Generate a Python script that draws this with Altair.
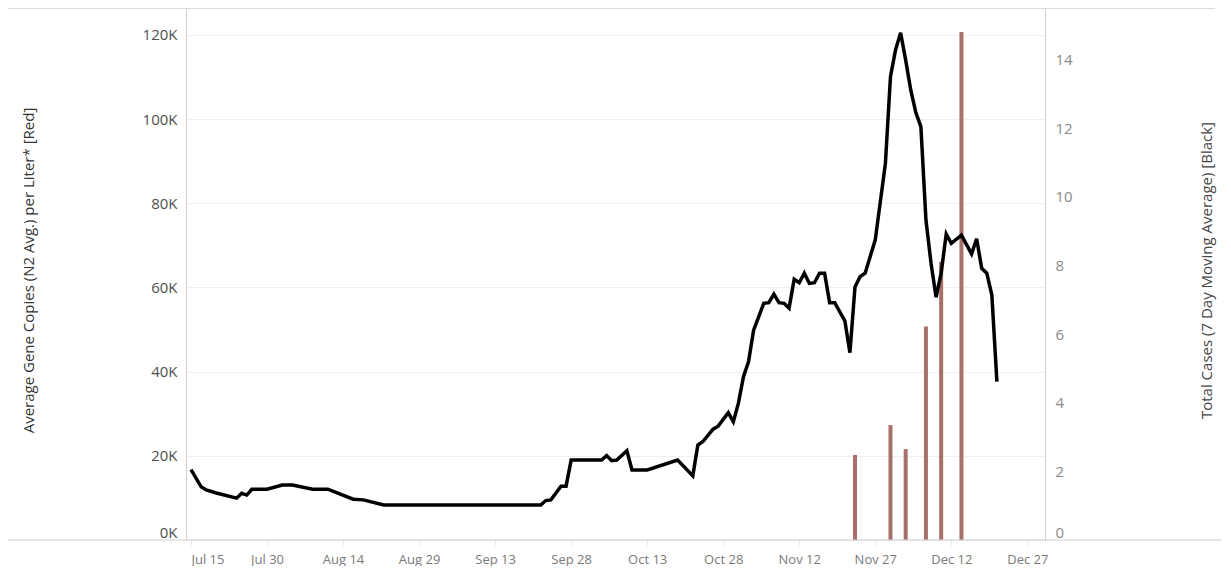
import altair as alt
import pandas as pd

# ---- data ----
line_dates = [
    "2020-07-15", "2020-07-17", "2020-07-18", "2020-07-20", "2020-07-24", "2020-07-25",
    "2020-07-26", "2020-07-27", "2020-07-30", "2020-08-02", "2020-08-04", "2020-08-08",
    "2020-08-11", "2020-08-16", "2020-08-18", "2020-08-22", "2020-09-22", "2020-09-23",
    "2020-09-24", "2020-09-26", "2020-09-27", "2020-09-28", "2020-10-04", "2020-10-05",
    "2020-10-06", "2020-10-07", "2020-10-09", "2020-10-10", "2020-10-13", "2020-10-19",
    "2020-10-22", "2020-10-23", "2020-10-24", "2020-10-26", "2020-10-27", "2020-10-29",
    "2020-10-30", "2020-10-31", "2020-11-01", "2020-11-02", "2020-11-03", "2020-11-05",
    "2020-11-06", "2020-11-07", "2020-11-08", "2020-11-09", "2020-11-10", "2020-11-11",
    "2020-11-12", "2020-11-13", "2020-11-14", "2020-11-15", "2020-11-16", "2020-11-17",
    "2020-11-18", "2020-11-19", "2020-11-21", "2020-11-22", "2020-11-23", "2020-11-24",
    "2020-11-25", "2020-11-27", "2020-11-29", "2020-11-30", "2020-12-01", "2020-12-02",
    "2020-12-03", "2020-12-04", "2020-12-05", "2020-12-06", "2020-12-07", "2020-12-08",
    "2020-12-09", "2020-12-10", "2020-12-11", "2020-12-12", "2020-12-14", "2020-12-16",
    "2020-12-17", "2020-12-18", "2020-12-19", "2020-12-20", "2020-12-21",
]
line_cases = [
    2.05, 1.55, 1.46, 1.37, 1.22, 1.36,
    1.31, 1.48, 1.48, 1.60, 1.60, 1.48,
    1.48, 1.19, 1.17, 1.02, 1.02, 1.15,
    1.17, 1.57, 1.57, 2.33, 2.33, 2.46,
    2.31, 2.33, 2.60, 2.04, 2.04, 2.33,
    1.87, 2.77, 2.87, 3.23, 3.32, 3.71,
    3.45, 3.99, 4.76, 5.20, 6.12, 6.90,
    6.92, 7.17, 6.92, 6.90, 6.76, 7.60,
    7.50, 7.78, 7.48, 7.50, 7.78, 7.78,
    6.92, 6.92, 6.39, 5.46, 7.38, 7.68,
    7.78, 8.75, 10.98, 13.51, 14.29, 14.79,
    13.99, 13.12, 12.46, 12.05, 9.33, 8.07,
    7.08, 7.78, 8.92, 8.65, 8.89, 8.34,
    8.78, 7.92, 7.78, 7.14, 4.62,
]

bar_dates = ["2020-11-23", "2020-11-30", "2020-12-03", "2020-12-07", "2020-12-10", "2020-12-14"]
bar_copies = [20200, 27300, 21600, 50700, 66100, 120700]

tick_dates = ["07-15", "07-30", "08-14", "08-29", "09-13", "09-28",
              "10-13", "10-28", "11-12", "11-27", "12-12", "12-27"]
left_ticks = [0, 20000, 40000, 60000, 80000, 100000, 120000]
right_ticks = [0, 2, 4, 6, 8, 10, 12, 14]

left_title = "Average Gene Copies (N2 Avg.) per Liter* [Red]"
right_title = "Total Cases (7 Day Moving Average) [Black]"

FONT = "Open Sans"
W, H = 859, 532

line_df = pd.DataFrame({"date": line_dates, "cases": line_cases})
bar_df = pd.DataFrame({"date": bar_dates, "copies": bar_copies})

x_scale = alt.Scale(
    type="utc",
    domain=[alt.DateTime(year=2020, month=7, date=15, utc=True),
            alt.DateTime(year=2020, month=12, date=29, hours=12, utc=True)],
    nice=False,
)
x_vals = [alt.DateTime(year=2020, month=int(t[:2]), date=int(t[3:]), utc=True) for t in tick_dates]
x_axis = alt.Axis(
    title=None, values=x_vals, labelExpr="utcFormat(datum.value, '%b %d')",
    grid=False, domain=False, ticks=True, tickSize=5, tickColor="#e6e6e6",
    labelPadding=8, labelFlush=15, labelFont=FONT, labelFontSize=13,
    labelColor="#7a7a7a",
)

bars = alt.Chart(bar_df).mark_bar(color="#a9706a", size=4).encode(
    x=alt.X("date:T", scale=x_scale, axis=x_axis),
    y=alt.Y(
        "copies:Q",
        scale=alt.Scale(domain=[0, 126400], nice=False, zero=True),
        axis=alt.Axis(
            orient="left", title=left_title, values=left_ticks,
            labelExpr="datum.value / 1000 + 'K'",
            grid=True, gridColor="#efefef", ticks=False, domain=True,
            domainColor="#d2d2d2", labelPadding=9, labelFlush=True,
            labelFont=FONT, labelFontSize=15, labelColor="#505050",
            titleFont=FONT, titleFontSize=15, titleFontWeight="normal",
            titleColor="#333333", titleAngle=270, titleX=-158, titleY=262,
            titleAlign="center", titleBaseline="middle",
        ),
    ),
)

line = alt.Chart(line_df).mark_line(color="black", strokeWidth=3.5).encode(
    x=alt.X("date:T", scale=x_scale, axis=x_axis),
    y=alt.Y(
        "cases:Q",
        scale=alt.Scale(domain=[0, 15.51], nice=False, zero=True),
        axis=alt.Axis(
            orient="right", title=right_title, values=right_ticks,
            grid=False, ticks=False, domain=True, domainColor="#d2d2d2",
            labelPadding=10, labelFlush=True,
            labelFont=FONT, labelFontSize=15, labelColor="#8a8a8a",
            titleFont=FONT, titleFontSize=15, titleFontWeight="normal",
            titleColor="#444444", titleAngle=270, titleX=161, titleY=262,
            titleAlign="center", titleBaseline="middle",
        ),
    ),
)

frame_top = alt.Chart(pd.DataFrame({"k": [0]})).mark_rule(color="#dcdcdc", strokeWidth=1).encode(
    x=alt.value(-178), x2=alt.value(1029), y=alt.value(0.5)
)
frame_bottom = alt.Chart(pd.DataFrame({"k": [0]})).mark_rule(color="#cfcfcf", strokeWidth=1).encode(
    x=alt.value(-178), x2=alt.value(1037), y=alt.value(H)
)

chart = (
    alt.layer(bars, line, frame_top, frame_bottom)
    .resolve_scale(y="independent")
    .properties(
        width=W, height=H,
        autosize=alt.AutoSizeParams(type="none"),
        padding={"left": 178, "top": 0, "right": 176, "bottom": 26},
        background="white",
    )
    .configure_view(stroke=None)
)

chart.save("out.html", embed_options={"renderer": "svg", "actions": False})
